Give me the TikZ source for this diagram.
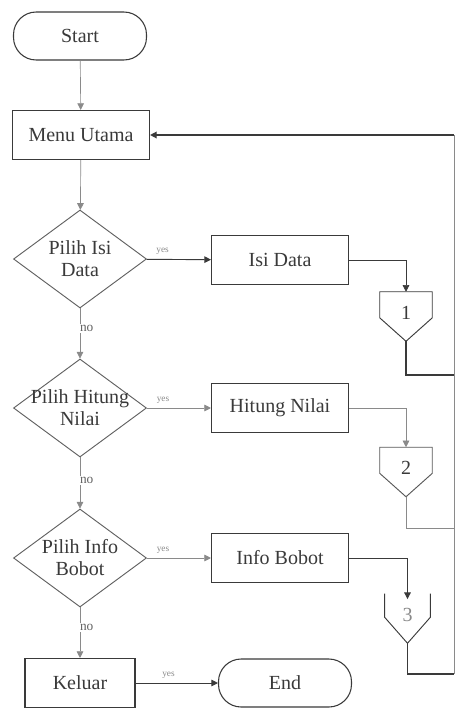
\documentclass[tikz,border=0pt]{standalone}
\usepackage{fontspec}
\setmainfont{Liberation Serif}
\usetikzlibrary{shapes.geometric,arrows.meta}
\definecolor{ink}{HTML}{3A3A3A}
\definecolor{soft}{HTML}{8A8A8A}
\begin{document}
\begin{tikzpicture}[x=0.75pt,y=-0.75pt,
  every node/.style={text=ink},
  maintext/.style={font=\fontsize{15}{16.5}\selectfont, align=center},
  term/.style={draw=ink, line width=0.8pt, rounded corners=17pt, fill=white,
    minimum width=99.75pt, minimum height=36pt, inner sep=0pt, maintext},
  proc/.style={draw=ink, line width=0.8pt, fill=white,
    minimum width=102.75pt, minimum height=36.75pt, inner sep=0pt, maintext},
  dia/.style={draw=ink!80, line width=0.7pt, shape=diamond, fill=white,
    minimum width=99.75pt, minimum height=73.5pt, inner sep=0pt},
  conn/.style={minimum width=39pt, minimum height=36.75pt, inner sep=0pt},
  yeslab/.style={font=\fontsize{7}{8}\selectfont, text=soft},
  nolab/.style={font=\fontsize{10}{11}\selectfont, text=ink!80, fill=white, inner sep=1pt},
  flow/.style={draw=ink, line width=0.7pt, -{Triangle[length=5pt,width=5pt]}},
  flowsoft/.style={draw=soft, line width=0.5pt, -{Triangle[length=5pt,width=5pt]}},
  line/.style={draw=ink, line width=0.8pt},
  linesoft/.style={draw=soft, line width=0.5pt}]
\useasboundingbox (0,0) rectangle (455,711);

% main column
\node[term] (start) at (80,36) {Start};
\node[proc] (menu) at (81,135) {Menu Utama};
\node[dia] (d1) at (80,259) {};
\node[maintext] at (d1) {Pilih Isi\\Data};
\node[dia] (d2) at (80,408) {};
\node[maintext] at (d2) {Pilih Hitung\\Nilai};
\node[dia] (d3) at (80,558) {};
\node[maintext] at (d3) {Pilih Info\\Bobot};
\node[proc, minimum width=82.5pt] (keluar) at (80,683) {Keluar};

% actions
\node[proc] (isi) at (280,260) {Isi Data};
\node[proc] (hitung) at (280,408) {Hitung Nilai};
\node[proc] (info) at (280,558) {Info Bobot};
\node[term] (end) at (285,683) {End};

% off-page connectors
\node[conn] (c1) at (406,316.5) {};
\draw[draw=ink, line width=0.7pt] (c1.north west) -- (c1.north east) -- ([yshift=-1pt]c1.east) -- (c1.south) -- ([yshift=-1pt]c1.west) -- cycle;
\node[maintext] at ([yshift=3pt]c1.center) {1};
\node[conn] (c2) at (406,472) {};
\draw[draw=ink!85, line width=0.7pt] (c2.north west) -- (c2.north east) -- ([yshift=-1pt]c2.east) -- (c2.south) -- ([yshift=-1pt]c2.west) -- cycle;
\node[maintext] at ([yshift=3pt]c2.center) {2};
\node[conn, minimum width=34pt] (c3) at (407.5,618.5) {};
\draw[draw=ink, line width=0.7pt] (c3.north west) -- ([yshift=1pt]c3.west) -- (c3.south) -- ([yshift=1pt]c3.east) -- (c3.north east);
\node[maintext, text=soft] at ([yshift=3pt]c3.center) {3};

\coordinate (r1) at (454,375);
\coordinate (r2) at (454,528);
\coordinate (r3) at (454,674);
\coordinate (rtop) at (454,135);

% main flow
\draw[flowsoft] (start) -- (menu);
\draw[flowsoft] (menu) -- (d1);
\draw[flowsoft] (d1) -- node[nolab, pos=0.4, xshift=5pt] {no} (d2);
\draw[flowsoft] (d2) -- node[nolab, pos=0.45, xshift=5pt] {no} (d3);
\draw[flowsoft] (d3) -- node[nolab, pos=0.4, xshift=5pt] {no} (keluar);

% yes branches
\draw[flow] (d1) -- node[yeslab, above, pos=0.25] {yes} (isi);
\draw[flowsoft] (d2) -- node[yeslab, above, pos=0.25] {yes} (hitung);
\draw[flowsoft] (d3) -- node[yeslab, above, pos=0.25] {yes} (info);
\draw[flow] (keluar) -- node[yeslab, above, pos=0.4] {yes} (end);

% into the connectors
\draw[flowsoft, draw=ink] (isi.east) -| (c1.north);
\draw[flowsoft] (hitung.east) -| (c2.north);
\draw[flow] (info.east) -| ([yshift=-4pt]c3.north);

% out of the connectors and back to the menu
\draw[line] (c1.south) |- (r1);
\draw[linesoft] (c2.south) |- (r2);
\draw[line] (c3.south) |- (r3);
\draw[linesoft] (r3) -- (rtop);
\draw[flow, line width=0.9pt] (rtop) -- (menu.east);
\end{tikzpicture}
\end{document}
